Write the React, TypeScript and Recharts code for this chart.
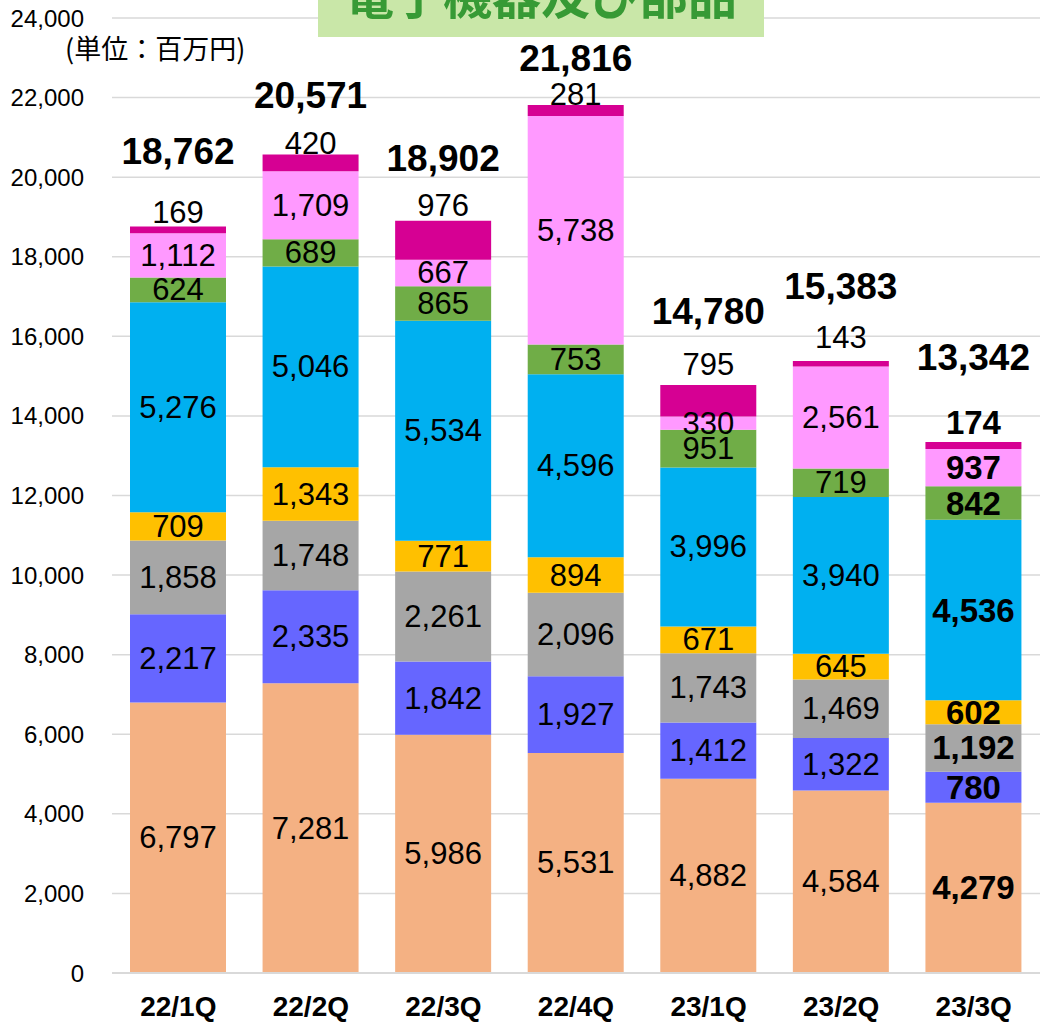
import React from 'react';
import { BarChart, Bar, XAxis, YAxis, CartesianGrid, LabelList } from 'recharts';

const categories = ['22/1Q', '22/2Q', '22/3Q', '22/4Q', '23/1Q', '23/2Q', '23/3Q'];
const seg1 = [6797, 7281, 5986, 5531, 4882, 4584, 4279];
const seg2 = [2217, 2335, 1842, 1927, 1412, 1322, 780];
const seg3 = [1858, 1748, 2261, 2096, 1743, 1469, 1192];
const seg4 = [709, 1343, 771, 894, 671, 645, 602];
const seg5 = [5276, 5046, 5534, 4596, 3996, 3940, 4536];
const seg6 = [624, 689, 865, 753, 951, 719, 842];
const seg7 = [1112, 1709, 667, 5738, 330, 2561, 937];
const seg8 = [169, 420, 976, 281, 795, 143, 174];
const totals = [18762, 20571, 18902, 21816, 14780, 15383, 13342];
const yTicks = [0, 2000, 4000, 6000, 8000, 10000, 12000, 14000, 16000, 18000, 20000, 22000, 24000];

// hand placed label heights above the bar top (px)
const topLift = [14, 11, 15, 10, 20, 23, 20];
const totalLift = [75, 59, 62, 46, 73, 74, 85];

const colors = ['#F4B183', '#6666FF', '#A6A6A6', '#FFC000', '#00B0F0', '#70AD47', '#FF99FF', '#D60093'];
const seriesKeys = ['s1', 's2', 's3', 's4', 's5', 's6', 's7', 's8'];
const series = [seg1, seg2, seg3, seg4, seg5, seg6, seg7, seg8];

const data = categories.map((name, i) => {
  const row: any = { name };
  seriesKeys.forEach((k, j) => { row[k] = series[j][i]; });
  return row;
});

const FONT = '"Liberation Sans", Arial, sans-serif';
const fmt = (v: number) => Number(v).toLocaleString('en-US');

const box = (props: any) => {
  const vb = props.viewBox || {};
  const x = props.x ?? vb.x;
  const y = props.y ?? vb.y;
  const width = props.width ?? vb.width;
  const height = props.height ?? vb.height;
  const top = height >= 0 ? y : y + height;
  return { x, top, width, h: Math.abs(height) };
};

const centerLabel = (props: any) => {
  const { x, top, width, h } = box(props);
  const bold = props.index === 6;
  return (
    <text x={x + width / 2} y={top + h / 2} textAnchor="middle" dominantBaseline="central"
      fontSize={bold ? 33 : 31} fontWeight={bold ? 700 : 400} fill="#000" fontFamily={FONT}>
      {fmt(props.value)}
    </text>
  );
};

const topLabel = (props: any) => {
  const { x, top, width } = box(props);
  const i = props.index;
  const cx = x + width / 2;
  return (
    <g>
      <text x={cx} y={top - topLift[i]} textAnchor="middle" dominantBaseline="central"
        fontSize={i === 6 ? 33 : 31} fontWeight={i === 6 ? 700 : 400} fill="#000" fontFamily={FONT}>
        {fmt(props.value)}
      </text>
      <text x={cx} y={top - totalLift[i]} textAnchor="middle" dominantBaseline="central"
        fontSize={37} fontWeight={700} fill="#000" fontFamily={FONT}>
        {fmt(totals[i])}
      </text>
    </g>
  );
};

export default function App() {
  return (
    <div style={{ position: 'absolute', left: 0, top: 0, width: 1040, height: 1025, background: '#fff', overflow: 'hidden' }}>
      <BarChart width={1040} height={1025} data={data} margin={{ top: 18, right: 0, bottom: 0, left: 0 }}>
        <CartesianGrid vertical={false} stroke="#d9d9d9" strokeWidth={1.5} />
        <XAxis dataKey="name" interval={0} height={52} tickLine={false} tickSize={0} tickMargin={23}
          axisLine={{ stroke: '#d9d9d9', strokeWidth: 2 }}
          tick={{ fontSize: 28, fontWeight: 700, fill: '#000', fontFamily: FONT }} />
        <YAxis width={112} domain={[0, 24000]} ticks={yTicks} interval={0} axisLine={false} tickLine={false}
          tickSize={0} tickMargin={28} tickFormatter={fmt}
          tick={{ fontSize: 24, fill: '#000', fontFamily: FONT }} />
        {seriesKeys.map((k, j) => (
          <Bar key={k} dataKey={k} stackId="a" fill={colors[j]} barSize={96} isAnimationActive={false}>
            <LabelList dataKey={k} content={j === 7 ? topLabel : centerLabel} />
          </Bar>
        ))}
      </BarChart>
      <div style={{ position: 'absolute', left: 65, top: 30, fontSize: 27, lineHeight: '36px', color: '#000',
        fontFamily: '"Noto Sans CJK JP", sans-serif', whiteSpace: 'nowrap' }}>
        (単位：百万円)
      </div>
      <div style={{ position: 'absolute', left: 318, top: 0, width: 446, height: 37, background: '#C9E7A8', overflow: 'hidden' }}>
        <div style={{ position: 'absolute', left: 0, top: -32, width: 446, textAlign: 'center', fontSize: 49, lineHeight: '49px',
          fontWeight: 700, color: '#379A35', fontFamily: '"Noto Sans CJK JP", sans-serif', whiteSpace: 'nowrap' }}>
          電子機器及び部品
        </div>
      </div>
    </div>
  );
}
